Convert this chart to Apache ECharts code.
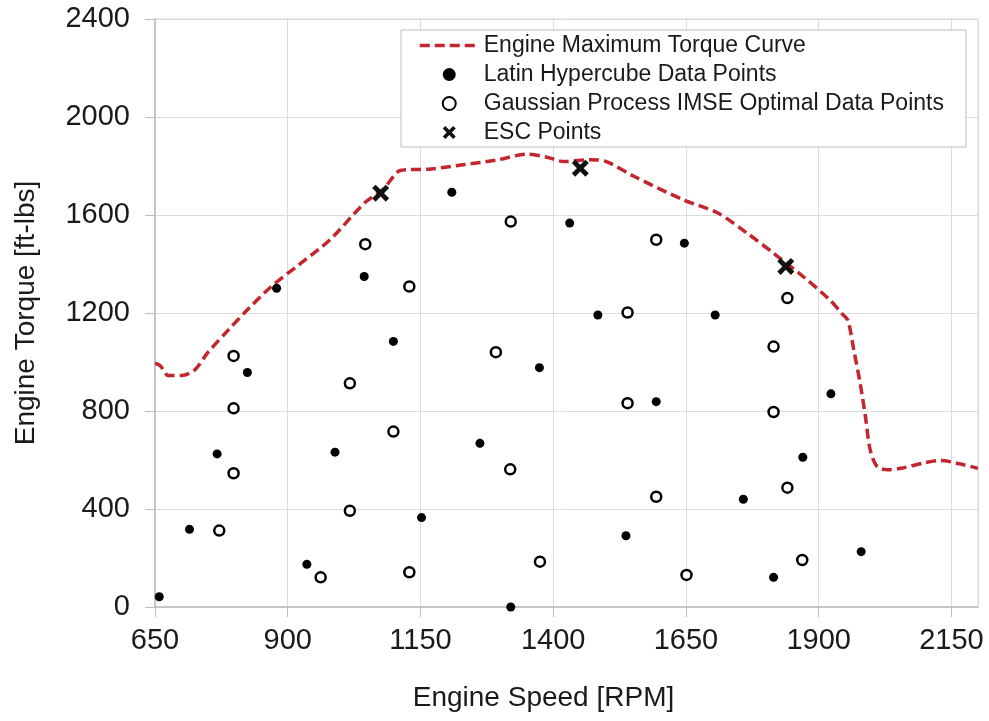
<!DOCTYPE html>
<html>
<head>
<meta charset="utf-8">
<script src="https://cdn.jsdelivr.net/npm/echarts@6/dist/echarts.min.js"></script>
<style>
  html, body { margin: 0; padding: 0; background: #fff; }
  #chart { width: 989px; height: 721px; }
</style>
</head>
<body>
<div id="chart"></div>
<script>
// torque curve [rpm, ft-lbs]
const curveRpm    = [650, 660, 675, 700, 725, 750, 790, 825, 870, 920, 980, 1045, 1080, 1110, 1130, 1170, 1230, 1295, 1350, 1390, 1420, 1470, 1500, 1550, 1645, 1710, 1765, 1815, 1870, 1920, 1945, 1955, 1966, 1978, 1988, 1997, 2010, 2030, 2055, 2100, 2130, 2160, 2200]
const curveTorque = [995, 985, 945, 945, 968, 1040, 1135, 1215, 1310, 1395, 1500, 1650, 1705, 1780, 1785, 1788, 1805, 1825, 1848, 1835, 1818, 1826, 1818, 1760, 1662, 1608, 1526, 1444, 1350, 1255, 1195, 1170, 1050, 914, 777, 641, 573, 560, 566, 589, 598, 587, 566]

const lhsRpm    = [879, 1209, 1431, 1044, 1484, 1647, 1705, 824, 767, 715, 658, 1099, 989, 1152, 936, 1374, 1262, 1320, 1923, 1594, 1870, 1758, 1537, 1815, 1980]
const lhsTorque = [1301, 1693, 1567, 1349, 1192, 1485, 1192, 957, 625, 317, 42, 1084, 632, 365, 174, 977, 668, 0, 870, 838, 611, 440, 291, 121, 226]

const gpRpm    = [1046, 1129, 1320, 1594, 1841, 1540, 798, 798, 798, 771, 1017, 1099, 1017, 962, 1129, 1292, 1319, 1375, 1815, 1540, 1815, 1594, 1841, 1651, 1869]
const gpTorque = [1481, 1308, 1573, 1499, 1261, 1202, 1025, 811, 546, 312, 913, 716, 393, 121, 142, 1040, 562, 185, 1063, 832, 796, 450, 487, 131, 192]

const escRpm    = [1075, 1451, 1838]
const escTorque = [1689, 1791, 1390]

const seriesNames = [
  'Engine Maximum Torque Curve',
  'Latin Hypercube Data Points',
  'Gaussian Process IMSE Optimal Data Points',
  'ESC Points'
]

const zip = (xs, ys) => xs.map((x, i) => [x, ys[i]])

const FONT = "'Liberation Sans', Arial, sans-serif"
const CROSS = 'path://M2,0 L5,3 L8,0 L10,2 L7,5 L10,8 L8,10 L5,7 L2,10 L0,8 L3,5 L0,2 Z'
const RED = '#c3262e'

const chart = echarts.init(document.getElementById('chart'))
chart.setOption({
  animation: false,
  textStyle: { fontFamily: FONT },
  grid: {
    left: 155, right: 11, top: 19, bottom: 114,
    containLabel: false, outerBoundsMode: 'none',
    show: true, borderColor: '#d4d4d4', borderWidth: 1
  },
  legend: {
    orient: 'vertical',
    left: 401, top: 30,
    padding: [4, 22, 3, 17],
    itemWidth: 59, itemHeight: 13, itemGap: 6,
    backgroundColor: '#fff',
    borderColor: '#bdbdbd', borderWidth: 1,
    textStyle: { fontSize: 23, color: '#1a1a1a', fontFamily: FONT },
    data: [
      // line only, no dot
      { name: seriesNames[0], itemStyle: { opacity: 0 }, lineStyle: { width: 3.5, color: RED, type: [10, 5] } },
      seriesNames[1],
      seriesNames[2],
      seriesNames[3]
    ]
  },
  xAxis: {
    type: 'value',
    min: 650, max: 2200, interval: 250,
    name: 'Engine Speed [RPM]',
    nameLocation: 'middle', nameGap: 77,
    nameTextStyle: { fontSize: 28, color: '#1a1a1a', padding: [0, 46, 0, 0] },
    axisLine: { show: true, onZero: false, lineStyle: { color: '#bdbdbd', width: 1.5 } },
    axisTick: { show: true, inside: false, length: 10, lineStyle: { color: '#bdbdbd' } },
    axisLabel: { fontSize: 29, color: '#1a1a1a', margin: 19, showMaxLabel: false, formatter: v => String(v) },
    splitLine: { show: true, lineStyle: { color: '#dcdcdc', width: 1 } }
  },
  yAxis: {
    type: 'value',
    min: 0, max: 2400, interval: 400,
    name: 'Engine Torque [ft-lbs]',
    nameLocation: 'middle', nameGap: 115,
    nameTextStyle: { fontSize: 28, color: '#1a1a1a' },
    axisLine: { show: true, lineStyle: { color: '#bdbdbd', width: 1.5 } },
    axisTick: { show: true, inside: false, length: 10, lineStyle: { color: '#bdbdbd' } },
    axisLabel: { fontSize: 29, color: '#1a1a1a', margin: 25, formatter: v => String(v) },
    splitLine: { show: true, lineStyle: { color: '#dcdcdc', width: 1 } }
  },
  series: [
    {
      name: seriesNames[0],
      type: 'line',
      data: zip(curveRpm, curveTorque),
      smooth: 0.3,
      symbol: 'none',
      lineStyle: { color: RED, width: 3.5, type: [10, 5] },
      itemStyle: { color: RED },
      z: 3
    },
    {
      name: seriesNames[1],
      type: 'scatter',
      data: zip(lhsRpm, lhsTorque),
      symbol: 'circle',
      symbolSize: 9,
      itemStyle: { color: '#000', opacity: 1 },
      z: 4
    },
    {
      name: seriesNames[2],
      type: 'scatter',
      data: zip(gpRpm, gpTorque),
      symbol: 'circle',
      symbolSize: 10,
      itemStyle: { color: '#fff', borderColor: '#000', borderWidth: 2.5, opacity: 1 },
      z: 4
    },
    {
      name: seriesNames[3],
      type: 'scatter',
      data: zip(escRpm, escTorque),
      symbol: CROSS,
      symbolSize: 17,
      itemStyle: { color: '#111', opacity: 1 },
      z: 5
    }
  ]
})
</script>
</body>
</html>
